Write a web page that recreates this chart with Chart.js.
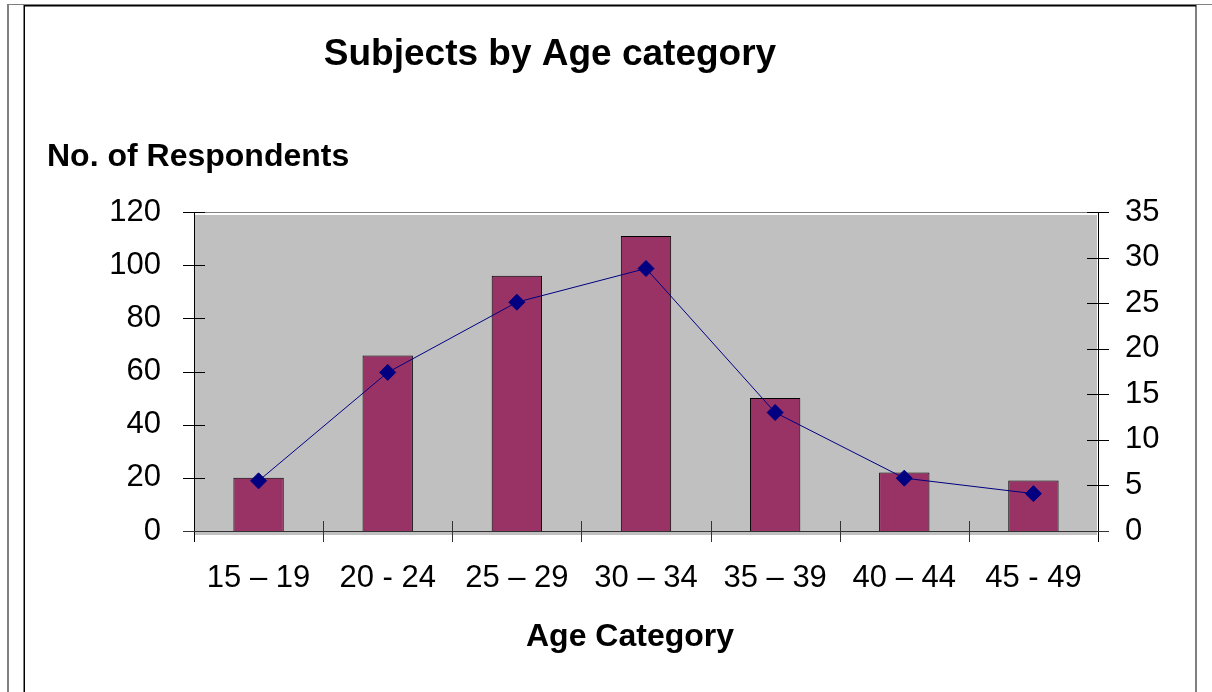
<!DOCTYPE html>
<html>
<head>
<meta charset="utf-8">
<script src="https://cdn.jsdelivr.net/npm/chart.js@4/dist/chart.umd.min.js"></script>
<style>
  html, body { margin: 0; padding: 0; background: #fff; }
  canvas { display: block; }
</style>
</head>
<body>
<canvas id="age-chart" width="1212" height="692"></canvas>
<script>
// Respondents per age band, with the share line on the right axis
const ageBands = ['15 – 19', '20 - 24', '25 – 29', '30 – 34', '35 – 39', '40 – 44', '45 - 49'];
const respondents = [20, 66, 96, 111, 50, 22, 19];
const sharePct = [5.5, 17.4, 25.1, 28.8, 13.0, 5.8, 4.1];

const FONT = '"Liberation Sans", Arial, sans-serif';

// Page frame, grey plot area, axis lines and the tick marks that cross them
const framePlugin = {
    id: 'frame',
    beforeDraw(chart) {
        const c = chart.ctx;
        const a = chart.chartArea;
        c.save();
        c.fillStyle = '#fff';
        c.fillRect(0, 0, chart.width, chart.height);

        c.fillStyle = '#808080';
        c.fillRect(7, 4, chart.width - 7, 1);
        c.fillRect(7, 4, 2, chart.height);
        c.fillRect(1195, 4, 2, chart.height);
        c.fillStyle = '#000';
        c.fillRect(24, 5, 1172, 1.5);
        c.fillRect(23.5, 5, 1.5, chart.height);

        // plot background
        c.fillStyle = '#c0c0c0';
        c.fillRect(a.left + 1, a.top + 3, a.right - a.left - 2, a.bottom - a.top + 1);
        c.restore();
    },
    afterDatasetsDraw(chart) {
        const c = chart.ctx;
        const a = chart.chartArea;
        const yL = chart.scales.y;
        const yR = chart.scales.y1;
        c.save();
        c.lineWidth = 1;

        // top edge of plot
        c.strokeStyle = '#808080';
        c.beginPath();
        c.moveTo(a.left, Math.round(a.top) + 0.5);
        c.lineTo(a.right, Math.round(a.top) + 0.5);
        c.stroke();

        c.strokeStyle = '#000';
        // vertical axes
        c.beginPath();
        c.moveTo(Math.round(a.left) + 0.5, a.top);
        c.lineTo(Math.round(a.left) + 0.5, a.bottom + 11);
        c.moveTo(Math.round(a.right) + 0.5, a.top);
        c.lineTo(Math.round(a.right) + 0.5, a.bottom + 11);
        c.stroke();

        // left ticks
        yL.ticks.forEach(t => {
            const py = Math.round(yL.getPixelForValue(t.value)) + 0.5;
            c.beginPath();
            c.moveTo(a.left - 11, py);
            c.lineTo(a.left + 11, py);
            c.stroke();
        });
        // right ticks
        yR.ticks.forEach(t => {
            const py = Math.round(yR.getPixelForValue(t.value)) + 0.5;
            c.beginPath();
            c.moveTo(a.right - 11, py);
            c.lineTo(a.right + 11, py);
            c.stroke();
        });

        // zero line
        c.strokeStyle = '#333';
        const y0 = Math.round(yL.getPixelForValue(0)) + 0.5;
        c.beginPath();
        c.moveTo(a.left - 11, y0);
        c.lineTo(a.right + 11, y0);
        c.stroke();

        // category boundaries
        const step = (a.right - a.left) / ageBands.length;
        for (let k = 1; k < ageBands.length; k++) {
            const px = Math.round(a.left + k * step) + 0.5;
            c.beginPath();
            c.moveTo(px, a.bottom - 10);
            c.lineTo(px, a.bottom + 11);
            c.stroke();
        }
        c.restore();
    },
    afterDraw(chart) {
        const c = chart.ctx;
        c.save();
        c.fillStyle = '#000';
        c.textBaseline = 'alphabetic';

        c.font = 'bold 37px ' + FONT;
        c.textAlign = 'center';
        c.fillText('Subjects by Age category', 550, 65);

        c.font = 'bold 32px ' + FONT;
        c.textAlign = 'left';
        c.fillText('No. of Respondents', 47, 166);

        c.textAlign = 'center';
        c.fillText('Age Category', 630, 646);
        c.restore();
    }
};

new Chart(document.getElementById('age-chart'), {
    type: 'bar',
    data: {
        labels: ageBands,
        datasets: [
            {
                type: 'line',
                data: sharePct,
                yAxisID: 'y1',
                borderColor: '#000080',
                borderWidth: 1,
                backgroundColor: '#000080',
                pointStyle: 'rectRot',
                pointRadius: 8,
                pointBorderWidth: 1,
                pointBackgroundColor: '#000080',
                pointBorderColor: '#000080',
                tension: 0,
                order: 0
            },
            {
                type: 'bar',
                data: respondents,
                yAxisID: 'y',
                backgroundColor: '#993366',
                borderColor: '#000',
                borderWidth: 1,
                categoryPercentage: 1,
                barPercentage: 0.39,
                order: 1
            }
        ]
    },
    options: {
        responsive: false,
        animation: false,
        layout: { padding: { top: 212, left: 0, right: 0, bottom: 0 } },
        plugins: {
            legend: { display: false },
            tooltip: { enabled: false }
        },
        scales: {
            x: {
                grid: { display: false, drawTicks: false },
                border: { display: false },
                ticks: {
                    color: '#000',
                    font: { family: FONT, size: 31 },
                    padding: 29,
                    maxRotation: 0,
                    autoSkip: false
                },
                afterFit(scale) { scale.height = 161; }
            },
            y: {
                position: 'left',
                min: 0,
                max: 120,
                grid: { display: false, drawTicks: false },
                border: { display: false },
                ticks: {
                    stepSize: 20,
                    color: '#000',
                    font: { family: FONT, size: 31 },
                    padding: 33
                },
                afterFit(scale) { scale.width = 194; }
            },
            y1: {
                position: 'right',
                min: 0,
                max: 35,
                grid: { display: false, drawTicks: false },
                border: { display: false },
                ticks: {
                    stepSize: 5,
                    color: '#000',
                    font: { family: FONT, size: 31 },
                    padding: 27
                },
                afterFit(scale) { scale.width = 114; }
            }
        }
    },
    plugins: [framePlugin]
});
</script>
</body>
</html>
